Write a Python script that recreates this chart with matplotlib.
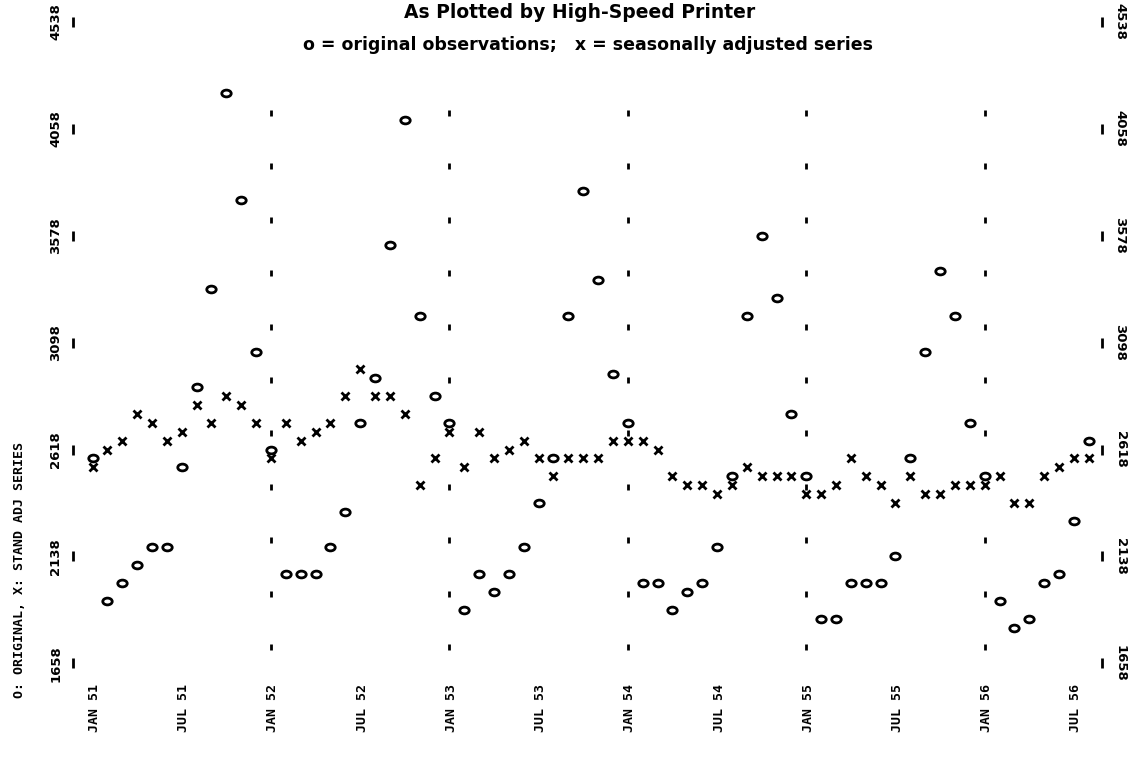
import matplotlib
matplotlib.use("Agg")
import matplotlib.pyplot as plt
import matplotlib.transforms as mtransforms
from matplotlib.path import Path
import numpy as np

# ---------------- data ----------------
start_year = 51
n_months = 68
month_index = list(range(n_months))

seasonally_adjusted = [
    2538, 2618, 2658, 2778, 2738, 2658, 2698, 2818, 2738, 2858, 2818, 2738,   # 1951
    2578, 2738, 2658, 2698, 2738, 2858, 2978, 2858, 2858, 2778, 2458, 2578,   # 1952
    2698, 2538, 2698, 2578, 2618, 2658, 2578, 2498, 2578, 2578, 2578, 2658,   # 1953
    2658, 2658, 2618, 2498, 2458, 2458, 2418, 2458, 2538, 2498, 2498, 2498,   # 1954
    2418, 2418, 2458, 2578, 2498, 2458, 2378, 2498, 2418, 2418, 2458, 2458,   # 1955
    2458, 2498, 2378, 2378, 2498, 2538, 2578, 2578,                           # 1956
]
original = [
    2578, 1938, 2018, 2098, 2178, 2178, 2538, 2898, 3338, 4218, 3738, 3058,   # 1951
    2618, 2058, 2058, 2058, 2178, 2338, 2738, 2938, 3538, 4098, 3218, 2858,   # 1952
    2738, 1898, 2058, 1978, 2058, 2178, 2378, 2578, 3218, 3778, 3378, 2958,   # 1953
    2738, 2018, 2018, 1898, 1978, 2018, 2178, 2498, 3218, 3578, 3298, 2778,   # 1954
    2498, 1858, 1858, 2018, 2018, 2018, 2138, 2578, 3058, 3418, 3218, 2738,   # 1955
    2498, 1938, 1818, 1858, 2018, 2058, 2298, 2658,                           # 1956
]

y_ticks = [1658, 2138, 2618, 3098, 3578, 4058, 4538]
y_tick_labels = ["1658", "2138", "2618", "3098", "3578", "4058", "4538"]
x_tick_months = list(range(0, n_months, 6))
x_tick_labels = ["JAN 51", "JUL 51", "JAN 52", "JUL 52", "JAN 53", "JUL 53",
                 "JAN 54", "JUL 54", "JAN 55", "JUL 55", "JAN 56", "JUL 56"]
# printer guide marks on January rows
guide_months = [12, 24, 36, 48, 60]
guide_values = [1730, 1970, 2210, 2450, 2690, 2930, 3170, 3410, 3650, 3890, 4130]

title = "As Plotted by High-Speed Printer"
subtitle = "o = original observations;   x = seasonally adjusted series"
side_label = "O: ORIGINAL, X: STAND ADJ SERIES"

# ---------------- figure ----------------
W, H = 1129, 758
fig = plt.figure(figsize=(W / 100, H / 100), dpi=100)
fig.patch.set_facecolor("white")
ax = fig.add_axes([0, 0, 1, 1])
ax.set_axis_off()

px_per_month = 14.87
x0_px = 92.5
ax.set_xlim(-x0_px / px_per_month, (W - x0_px) / px_per_month)
px_per_unit = 106.9 / 480
y1658_px = 663.3
ax.set_ylim(1658 - (H - y1658_px) / px_per_unit, 1658 + y1658_px / px_per_unit)

# guide marks (skip where a data character occupies the spot)
gx, gy = [], []
for m in guide_months:
    for v in guide_values:
        occupied = abs(seasonally_adjusted[m] - v) < 25 or abs(original[m] - v) < 25
        if not occupied:
            gx.append(m)
            gy.append(v)
ax.plot(gx, gy, linestyle="none", marker="|", ms=5, mew=2.0, color="black", zorder=2)

# ellipse marker for the printed "o"
ell = Path.unit_circle().transformed(mtransforms.Affine2D().scale(1.0, 0.72))
ax.plot(month_index, original, linestyle="none", marker=ell, ms=6.8,
        mfc="none", mec="black", mew=2.0, zorder=3)
ax.plot(month_index, seasonally_adjusted, linestyle="none", marker="x", ms=5.5,
        mec="black", mew=2.0, zorder=3)

# y-axis tick marks and labels (left and right)
left_lab = mtransforms.blended_transform_factory(ax.transAxes, ax.transData)
for v, lab in zip(y_ticks, y_tick_labels):
    ax.text(56 / W, v, lab, transform=left_lab, rotation=90, ha="center", va="center",
            fontsize=9.5, family="DejaVu Sans", fontweight="bold", color="black")
    ax.text(1120 / W, v, lab, transform=left_lab, rotation=-90, ha="center", va="center",
            fontsize=9.5, family="DejaVu Sans", fontweight="bold", color="black")
ax.plot([73 / W] * len(y_ticks), y_ticks, transform=left_lab, linestyle="none",
        marker="|", ms=7, mew=2.0, color="black")
ax.plot([1102 / W] * len(y_ticks), y_ticks, transform=left_lab, linestyle="none",
        marker="|", ms=7, mew=2.0, color="black")

# x-axis month labels
bottom_lab = mtransforms.blended_transform_factory(ax.transData, ax.transAxes)
off = mtransforms.ScaledTranslation(2 / 100, 0, fig.dpi_scale_trans)
for m, lab in zip(x_tick_months, x_tick_labels):
    ax.text(m, 1 - 708 / H, lab, transform=bottom_lab + off, rotation=90,
            ha="center", va="center", fontsize=9.5, family="DejaVu Sans Mono",
            fontweight="bold", color="black")

# side label
fig.text(20 / W, 1 - 570 / H, side_label, rotation=90, ha="center", va="center",
         fontsize=9.5, family="DejaVu Sans Mono", fontweight="bold", color="black")

# title and legend line
fig.text(580 / W, 1 - 12 / H, title, ha="center", va="center", fontsize=13.5,
         family="DejaVu Sans", fontweight="bold", color="black")
fig.text(588 / W, 1 - 45 / H, subtitle, ha="center", va="center", fontsize=12.5,
         family="DejaVu Sans", fontweight="bold", color="black")

fig.savefig("out.png", dpi=100, facecolor="white")
